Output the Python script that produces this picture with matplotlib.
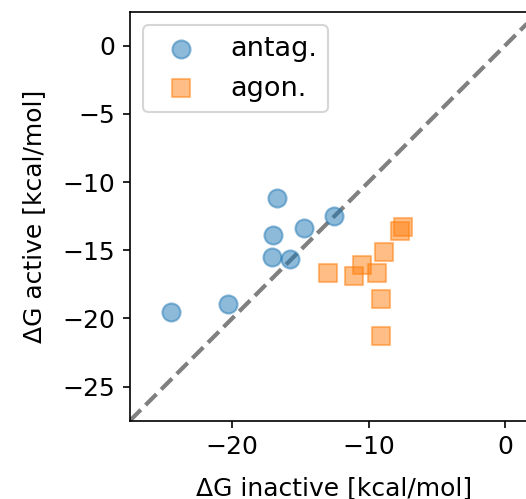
import matplotlib
matplotlib.use("Agg")
import matplotlib.pyplot as plt
import numpy as np

# binding free energies
antag_inactive = [-16.7, -12.55, -17.0, -14.7, -17.05, -15.75, -20.3, -24.5]
antag_active = [-11.2, -12.5, -13.85, -13.4, -15.5, -15.65, -18.95, -19.55]
agon_inactive = [-13.0, -11.1, -10.45, -9.35, -8.9, -9.1, -9.05, -7.7, -7.45]
agon_active = [-16.65, -16.9, -16.05, -16.7, -15.1, -18.6, -21.3, -13.6, -13.3]
lims = [-27.5, 2.5]

plt.rcParams["font.size"] = 12

fig = plt.figure(figsize=(526 / 150, 499 / 150), dpi=150)
ax = fig.add_axes([0.247, 0.157, 409 / 526, 0.8196])

ax.scatter(antag_inactive, antag_active, s=75, alpha=0.5, label="antag.")
ax.scatter(agon_inactive, agon_active, s=75, alpha=0.5, marker="s",
           label="agon.")
ax.plot(lims, lims, "--", color="gray", lw=2, zorder=0)

ax.set_xlim(lims)
ax.set_ylim(lims)
ax.set_xticks([-20, -10, 0])
ax.set_yticks([0, -5, -10, -15, -20, -25])
ax.set_xlabel("ΔG inactive [kcal/mol]", labelpad=8)
ax.set_ylabel("ΔG active [kcal/mol]", labelpad=8)
ax.legend(loc="upper left", fontsize=13)

fig.savefig("out.png", dpi=150)
